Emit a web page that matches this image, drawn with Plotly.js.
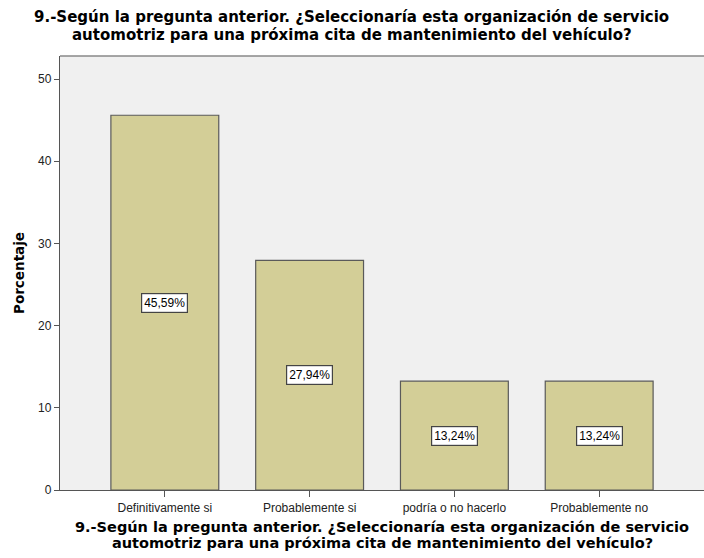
<!DOCTYPE html>
<html>
<head>
<meta charset="utf-8">
<script src="https://cdn.plot.ly/plotly-3.0.1.min.js"></script>
<style>html,body{margin:0;padding:0;background:#fff;}#chart{width:704px;height:558px;}</style>
</head>
<body>
<div id="chart"></div>
<script>
var categories = ["Definitivamente si", "Probablemente si", "podría o no hacerlo", "Probablemente no"];
var percentages = [45.59, 27.94, 13.24, 13.24];
var labels = ["45,59%", "27,94%", "13,24%", "13,24%"];
var yTicks = [0, 10, 20, 30, 40, 50];
var titleLines = ["9.-Según la pregunta anterior. ¿Seleccionaría esta organización de servicio",
                  "automotriz para una próxima cita de mantenimiento del vehículo?"];

var font = "Liberation Sans, Arial, sans-serif";
var titleFont = "DejaVu Sans, sans-serif";

var trace = {
  type: "bar",
  x: categories,
  y: percentages,
  marker: {color: "#D3CE97", line: {color: "#5a5a5a", width: 1.2}},
  width: 0.745,
  hoverinfo: "none"
};

var annotations = categories.map(function (c, i) {
  return {
    x: c, y: percentages[i] / 2, xref: "x", yref: "y",
    text: labels[i], showarrow: false,
    font: {family: font, size: 12, color: "#000"},
    bgcolor: "#ffffff", bordercolor: "#444", borderwidth: 1.2, borderpad: 2
  };
});

var topY = [1.0899, 1.0484];
var botY = [-0.0853, -0.1221];
titleLines.forEach(function (t, i) {
  annotations.push({
    xref: "paper", yref: "paper", x: 0.4534, y: topY[i], yanchor: "middle", xanchor: "center",
    text: t, showarrow: false,
    font: {family: titleFont, size: 15, color: "#000", weight: "bold"}
  });
  annotations.push({
    xref: "paper", yref: "paper", x: 0.5, y: botY[i], yanchor: "middle", xanchor: "center",
    text: t, showarrow: false,
    font: {family: titleFont, size: 14.5, color: "#000", weight: "bold"}
  });
});

var layout = {
  width: 704, height: 558,
  margin: {l: 60, r: 0, t: 56, b: 68},
  paper_bgcolor: "#ffffff",
  plot_bgcolor: "#F0F0F0",
  showlegend: false,
  xaxis: {
    type: "category",
    range: [-0.724, 3.724],
    showline: true, linecolor: "#555", linewidth: 1.2, mirror: false,
    ticks: "outside", ticklen: 6, tickcolor: "#555",
    tickfont: {family: font, size: 12, color: "#222"},
    showgrid: false, zeroline: false, fixedrange: true
  },
  yaxis: {
    range: [0, 52.8],
    tickvals: yTicks,
    showline: true, linecolor: "#555", linewidth: 1.2,
    ticks: "outside", ticklen: 5, tickcolor: "#555",
    tickfont: {family: font, size: 12, color: "#222"},
    showgrid: false, zeroline: false, fixedrange: true,
    title: {text: "Porcentaje", font: {family: titleFont, size: 13.5, color: "#000", weight: "bold"}, standoff: 10}
  },
  shapes: [{
    type: "line", xref: "paper", yref: "paper", x0: 0, x1: 1, y0: 1, y1: 1,
    line: {color: "#888", width: 1.5}
  }],
  annotations: annotations
};

Plotly.newPlot("chart", [trace], layout, {displayModeBar: false, staticPlot: true});
</script>
</body>
</html>
